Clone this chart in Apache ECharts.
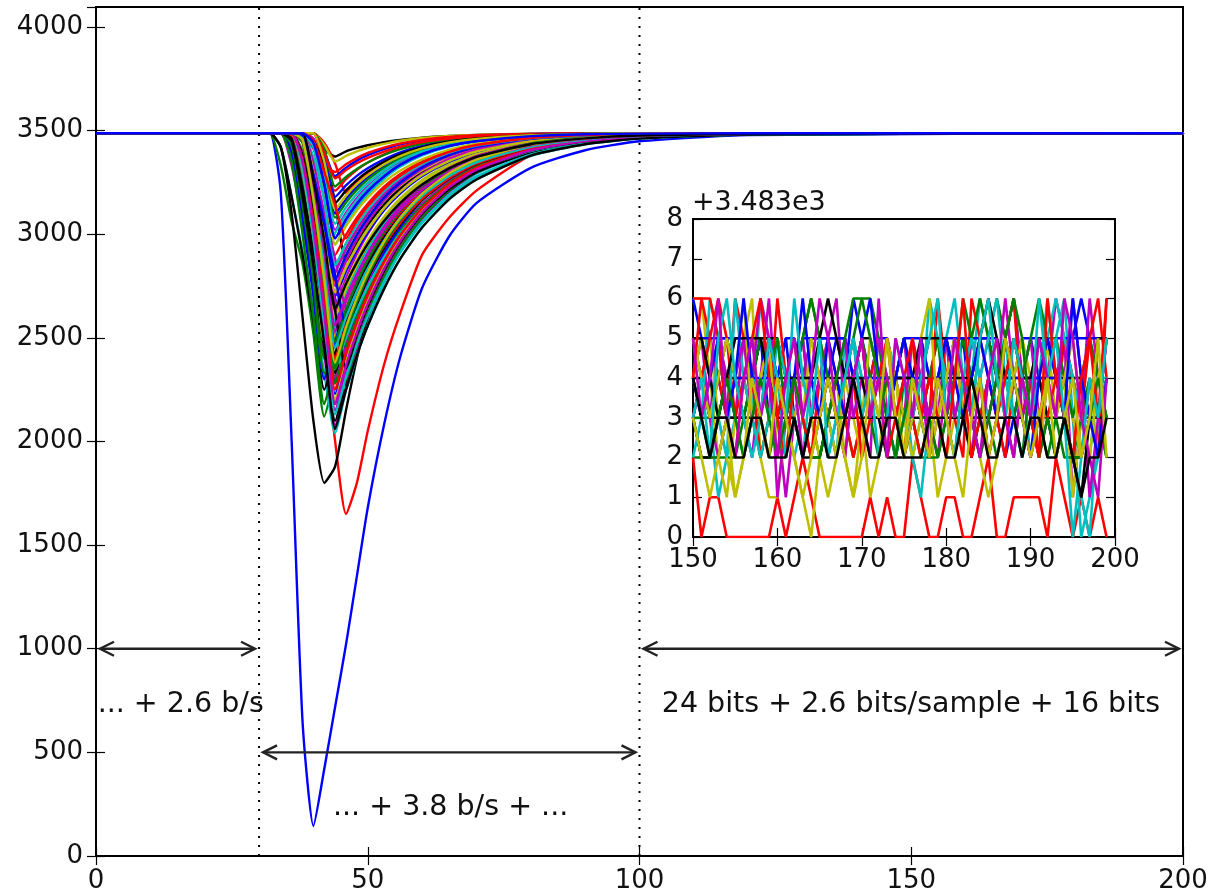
<!DOCTYPE html>
<html><head><meta charset="utf-8">
<script src="https://cdn.jsdelivr.net/npm/echarts@6/dist/echarts.min.js"></script>
<style>html,body{margin:0;padding:0;background:#fff}#c{width:1213px;height:894px}</style>
</head><body><div id="c"></div><script>
// ---------------- DATA ----------------
// sample positions (x) shared by all main traces
const mainX = [0, 30, 32, 34, 36, 38, 40, 42, 44, 46, 48, 50, 53, 56, 60, 65, 70, 80, 90, 100, 120, 200];
// main traces (y values at mainX)
const mainCurves = [
  [3487,3487,3487,3200,2000,650,145,420,720,1020,1350,1680,2080,2410,2740,2990,3150,3320,3405,3448,3478,3487],
  [3487,3487,3487,3330,3060,2860,2520,2120,2316,2482,2626,2749,2901,3021,3145,3255,3328,3413,3453,3471,3484,3487],
  [3487,3487,3487,3487,3440,3250,2900,2450,2000,1650,1800,2050,2370,2620,2900,3080,3210,3380,3445,3470,3484,3487],
  [3487,3487,3487,3420,3180,2920,2640,2330,2040,2247,2423,2575,2763,2913,3064,3199,3292,3396,3445,3468,3484,3487],
  [3487,3487,3487,3487,3330,3050,2750,2420,2080,2281,2453,2601,2783,2928,3076,3207,3297,3398,3446,3468,3484,3487],
  [3487,3487,3487,3487,3360,3130,2870,2600,2340,2517,2665,2791,2946,3065,3184,3287,3355,3430,3462,3476,3485,3487],
  [3487,3487,3487,3420,3100,2600,2100,1800,1880,2150,2400,2600,2820,2980,3130,3260,3340,3430,3468,3480,3486,3487],
  [3487,3487,3487,3487,3460,3300,3100,2880,2670,2460,2618,2751,2914,3040,3168,3276,3348,3426,3460,3476,3486,3487],
  [3487,3487,3487,3487,3440,3150,2800,2400,2567,2708,2827,2929,3052,3149,3245,3327,3382,3441,3467,3478,3486,3487],
  [3487,3487,3487,3487,3470,3300,3050,2780,2500,2652,2779,2888,3021,3124,3226,3315,3373,3438,3465,3478,3486,3487],
  [3487,3487,3487,3487,3487,3300,2950,2580,2200,2384,2541,2676,2843,2976,3111,3231,3313,3406,3450,3470,3484,3487],
  [3487,3487,3487,3487,3487,3330,3020,2660,2300,2483,2636,2766,2927,3050,3174,3280,3350,3428,3461,3476,3486,3487],
  [3487,3487,3487,3487,3487,3350,3000,2560,2714,2843,2949,3040,3146,3227,3306,3373,3415,3457,3475,3482,3487,3487],
  [3487,3487,3487,3487,3487,3487,3487,3400,3150,2870,2965,3045,3143,3219,3295,3360,3404,3451,3471,3480,3487,3487],
  [3487,3487,3487,3487,3487,3470,3250,2950,2620,2754,2865,2961,3078,3168,3258,3336,3387,3444,3468,3479,3487,3487],
  [3487,3487,3487,3487,3487,3440,3150,2680,2814,2926,3019,3097,3190,3261,3330,3388,3424,3461,3477,3483,3487,3487],
  [3487,3487,3487,3487,3487,3487,3412,3299,3210,3265,3310,3346,3385,3415,3440,3460,3471,3482,3486,3487,3487,3487],
  [3487,3487,3487,3487,3487,3470,3230,2910,2560,2703,2822,2924,3049,3146,3242,3326,3380,3441,3467,3478,3486,3487],
  [3487,3487,3487,3487,3487,3450,3250,2980,2680,2380,2550,2693,2869,3005,3143,3260,3338,3422,3458,3475,3486,3487],
  [3487,3487,3487,3487,3487,3370,3080,2760,2420,2584,2722,2839,2983,3094,3205,3301,3364,3434,3464,3477,3486,3487],
  [3487,3487,3487,3487,3487,3487,3487,3410,3375,3400,3416,3429,3444,3455,3466,3474,3479,3484,3486,3487,3487,3487],
  [3487,3487,3487,3487,3487,3487,3460,3300,3100,3170,3228,3274,3328,3371,3410,3441,3458,3477,3483,3486,3487,3487],
  [3487,3487,3487,3487,3487,3487,3455,3290,3080,3153,3214,3263,3320,3365,3406,3438,3457,3476,3483,3486,3487,3487],
  [3487,3487,3487,3487,3487,3487,3487,3440,3340,3200,3252,3295,3343,3381,3415,3444,3461,3478,3484,3486,3487,3487],
  [3487,3487,3487,3487,3487,3487,3370,3170,2950,3047,3127,3192,3267,3326,3380,3423,3447,3472,3482,3485,3487,3487],
  [3487,3487,3487,3487,3487,3475,3300,3040,2750,2872,2975,3060,3163,3239,3315,3378,3418,3459,3476,3483,3487,3487],
  [3487,3487,3487,3487,3487,3487,3320,3100,2850,2956,3044,3118,3207,3273,3338,3393,3427,3463,3477,3483,3487,3487],
  [3487,3487,3487,3487,3390,3130,2800,2450,2100,2298,2468,2613,2793,2936,3082,3211,3300,3400,3447,3468,3484,3487],
  [3487,3487,3487,3487,3487,3380,3150,2920,2690,2450,2610,2743,2908,3036,3164,3274,3347,3426,3460,3476,3486,3487],
  [3487,3487,3487,3487,3460,3230,2900,2540,2180,2367,2526,2664,2833,2968,3105,3227,3311,3405,3449,3469,3484,3487],
  [3487,3487,3487,3487,3487,3380,3120,2830,2520,2669,2794,2900,3031,3131,3232,3319,3376,3439,3466,3478,3486,3487],
  [3487,3487,3487,3487,3450,3180,2850,2500,2150,2328,2483,2617,2784,2920,3060,3189,3278,3385,3438,3463,3482,3487],
  [3487,3487,3487,3487,3487,3487,3460,3270,3020,3104,3174,3230,3296,3347,3394,3431,3452,3474,3482,3485,3487,3487],
  [3487,3487,3487,3487,3487,3487,3487,3430,3350,3377,3399,3417,3436,3451,3464,3474,3479,3484,3486,3487,3487,3487],
  [3487,3487,3487,3487,3487,3450,3170,2750,2330,2508,2657,2785,2941,3061,3182,3286,3354,3429,3462,3476,3486,3487],
  [3487,3487,3487,3487,3487,3487,3487,3400,3280,3321,3355,3381,3410,3433,3452,3467,3475,3483,3486,3487,3487,3487],
  [3487,3487,3487,3487,3487,3487,3300,3050,2780,2897,2996,3077,3176,3249,3322,3382,3421,3460,3476,3483,3487,3487],
  [3487,3487,3487,3487,3487,3487,3487,3340,3300,3337,3367,3392,3418,3438,3455,3469,3477,3484,3486,3487,3487,3487],
  [3487,3487,3487,3487,3487,3487,3300,2900,3006,3094,3164,3223,3293,3340,3390,3428,3451,3474,3482,3485,3487,3487],
  [3487,3487,3487,3487,3487,3487,3260,2980,2650,2789,2905,3002,3119,3206,3291,3363,3408,3455,3474,3482,3487,3487],
  [3487,3487,3487,3487,3487,3450,3200,2860,2500,2652,2779,2888,3021,3124,3226,3315,3373,3438,3465,3478,3486,3487],
  [3487,3487,3487,3420,3180,2900,2580,2250,2427,2578,2708,2819,2956,3065,3178,3277,3344,3420,3456,3473,3484,3487],
  [3487,3487,3487,3487,3380,3120,2820,2520,2230,2410,2563,2695,2858,2988,3120,3237,3317,3408,3451,3470,3483,3487],
  [3487,3487,3487,3487,3487,3400,3200,2930,2620,2300,2470,2615,2794,2937,3082,3212,3299,3400,3447,3468,3484,3487],
  [3487,3487,3487,3487,3487,3460,3200,2850,2450,2610,2743,2858,2998,3105,3213,3307,3368,3435,3464,3477,3486,3487],
  [3487,3487,3487,3487,3487,3380,3130,2850,2550,2250,2415,2558,2736,2882,3032,3169,3264,3378,3434,3461,3481,3487],
  [3487,3487,3487,3487,3450,3200,2880,2520,2150,2341,2504,2645,2818,2956,3097,3221,3307,3403,3448,3469,3483,3487],
  [3487,3487,3487,3487,3487,3330,2950,2480,2635,2765,2876,2970,3084,3174,3262,3339,3389,3445,3469,3479,3487,3487],
  [3487,3487,3487,3487,3460,3220,2920,2600,2280,2441,2581,2701,2852,2975,3102,3218,3299,3395,3442,3465,3482,3487],
  [3487,3487,3487,3487,3487,3487,3280,3000,2700,2821,2923,3009,3116,3197,3279,3350,3396,3448,3470,3480,3487,3487],
  [3487,3487,3487,3487,3487,3460,3150,2720,2280,2453,2600,2727,2883,3008,3135,3247,3324,3411,3452,3471,3484,3487],
  [3487,3487,3487,3487,3487,3487,3420,3180,2900,2997,3079,3147,3229,3290,3350,3400,3432,3465,3478,3483,3487,3487],
  [3487,3487,3487,3487,3487,3487,3250,2950,2600,2737,2851,2949,3068,3161,3253,3333,3385,3443,3467,3479,3487,3487],
  [3487,3487,3487,3487,3487,3390,3170,2920,2670,2420,2573,2703,2864,2993,3123,3239,3318,3409,3451,3470,3484,3487],
  [3487,3487,3487,3487,3487,3487,3430,3220,2950,3039,3114,3176,3251,3307,3361,3408,3437,3467,3479,3484,3487,3487],
  [3487,3487,3487,3487,3487,3360,3100,2800,2480,2624,2747,2853,2983,3087,3193,3287,3351,3424,3458,3474,3484,3487],
  [3487,3487,3487,3487,3487,3487,3487,3380,3180,3235,3281,3318,3361,3395,3426,3450,3464,3479,3484,3487,3487,3487],
  [3487,3487,3487,3487,3487,3487,3487,3410,3230,3276,3315,3346,3382,3410,3436,3456,3468,3480,3484,3487,3487,3487],
  [3487,3487,3487,3487,3487,3487,3487,3390,3270,3309,3342,3368,3398,3422,3444,3461,3471,3481,3485,3487,3487,3487],
  [3487,3487,3487,3487,3487,3487,3440,3270,3050,3129,3194,3247,3308,3356,3400,3435,3455,3475,3483,3486,3487,3487],
  [3487,3487,3487,3487,3487,3487,3340,3090,2820,2931,3023,3100,3194,3263,3331,3388,3424,3462,3477,3483,3487,3487],
  [3487,3487,3487,3487,3487,3470,3240,2940,2600,2737,2851,2949,3068,3161,3253,3333,3385,3443,3467,3479,3487,3487],
  [3487,3487,3487,3487,3487,3460,3180,2790,2380,2538,2673,2790,2933,3048,3164,3267,3338,3417,3455,3472,3484,3487],
  [3487,3487,3487,3487,3420,3080,2700,2300,2483,2636,2766,2877,3012,3118,3222,3312,3372,3437,3466,3478,3487,3487],
  [3487,3487,3487,3487,3350,3000,2600,2180,2381,2550,2694,2815,2964,3081,3196,3295,3360,3432,3463,3477,3486,3487],
  [3487,3487,3487,3487,3487,3460,3250,3000,2780,2550,2694,2815,2964,3079,3196,3295,3361,3432,3463,3477,3486,3487],
  [3487,3487,3487,3487,3487,3350,3050,2700,2350,2501,2633,2747,2889,3005,3124,3233,3310,3401,3445,3467,3482,3487],
  [3487,3487,3487,3487,3487,3487,3330,3100,2880,2650,2779,2887,3020,3123,3227,3315,3374,3438,3465,3478,3486,3487],
  [3487,3487,3487,3487,3487,3330,3000,2620,2200,2384,2541,2676,2843,2976,3111,3231,3313,3406,3450,3470,3484,3487],
  [3487,3487,3487,3487,3487,3487,3450,3330,3150,3211,3261,3302,3349,3386,3420,3447,3462,3478,3484,3487,3487,3487],
  [3487,3487,3487,3487,3487,3487,3440,3240,2980,3071,3147,3208,3279,3335,3386,3426,3449,3473,3482,3485,3487,3487],
  [3487,3487,3487,3487,3430,3140,2780,2330,2367,2539,2685,2808,2958,3076,3191,3292,3359,3431,3463,3477,3486,3487],
  [3487,3487,3487,3487,3487,3450,3180,2800,2400,2555,2688,2802,2943,3055,3170,3271,3340,3419,3455,3472,3484,3487],
  [3487,3487,3487,3487,3487,3330,2980,2560,2130,2310,2468,2604,2773,2912,3054,3184,3275,3384,3437,3463,3482,3487],
  [3487,3487,3487,3487,3487,3460,3220,2900,2530,2677,2801,2906,3035,3135,3234,3320,3377,3439,3466,3478,3486,3487],
  [3487,3487,3487,3487,3487,3487,3300,3030,2720,2838,2937,3021,3125,3205,3285,3354,3399,3449,3470,3480,3487,3487],
  [3487,3487,3487,3487,3487,3380,3150,2900,2630,2350,2513,2651,2823,2961,3099,3223,3307,3404,3448,3469,3484,3487],
  [3487,3487,3487,3487,3487,3475,3290,3050,2780,2897,2996,3077,3176,3249,3322,3382,3421,3460,3476,3483,3487,3487],
  [3487,3487,3487,3487,3487,3487,3180,2850,2480,2635,2765,2876,3012,3116,3221,3312,3371,3437,3465,3478,3486,3487],
  [3487,3487,3487,3487,3487,3360,3060,2680,2250,2427,2578,2708,2868,2996,3126,3241,3320,3409,3451,3470,3484,3487],
  [3487,3487,3487,3487,3487,3487,3420,3160,2850,2956,3044,3118,3207,3273,3338,3393,3427,3463,3477,3483,3487,3487],
  [3487,3487,3487,3487,3487,3350,3030,2620,2180,2367,2526,2664,2833,2968,3105,3227,3311,3405,3449,3469,3484,3487],
  [3487,3487,3487,3487,3487,3487,3487,3350,3120,3186,3241,3285,3337,3377,3414,3443,3460,3477,3483,3487,3487,3487],
  [3487,3487,3487,3487,3450,3180,2850,2470,2060,2250,2415,2558,2736,2882,3032,3169,3264,3379,3434,3461,3481,3487],
  [3487,3487,3487,3487,3487,3487,3280,3050,2800,2560,2703,2822,2970,3084,3199,3297,3362,3432,3463,3477,3486,3487],
  [3487,3487,3487,3487,3487,3450,3160,2760,2350,2525,2672,2797,2950,3069,3187,3289,3356,3430,3462,3476,3486,3487],
  [3487,3487,3487,3487,3487,3487,3450,3300,3140,2980,3064,3135,3219,3283,3345,3397,3430,3464,3478,3483,3487,3487],
  [3487,3487,3487,3487,3487,3460,3200,2850,2450,2598,2725,2834,2968,3075,3184,3281,3347,3422,3457,3473,3484,3487],
  [3487,3487,3487,3487,3487,3487,3230,2920,2560,2693,2806,2903,3023,3119,3216,3303,3362,3429,3460,3475,3484,3487],
  [3487,3487,3487,3487,3487,3455,3170,2780,2380,2550,2693,2815,2964,3080,3195,3294,3360,3432,3463,3477,3486,3487],
  [3487,3487,3487,3487,3487,3487,3260,2970,2640,2761,2864,2953,3063,3151,3240,3318,3373,3434,3462,3476,3484,3487],
  [3487,3487,3487,3487,3487,3487,3440,3240,2980,3071,3147,3208,3279,3335,3386,3426,3449,3473,3482,3485,3487,3487]
];
// inset: x = sample index, y = value minus 3483
const insetX = [150,151,152,153,154,155,156,157,158,159,160,161,162,163,164,165,166,167,168,169,
  170,171,172,173,174,175,176,177,178,179,180,181,182,183,184,185,186,187,188,189,
  190,191,192,193,194,195,196,197,198,199];
const insetCurves = [
  [6,5,4,5,5,5,5,4,5,5,4,5,5,4,5,5,5,5,4,6,5,4,5,5,4,5,5,5,4,4,4,5,5,4,5,5,5,4,4,5,5,5,4,5,5,5,6,5,4,5],
  [2,2,2,2,3,4,3,3,2,3,4,3,4,5,6,5,4,3,4,5,6,6,5,3,4,3,3,2,3,3,4,5,4,3,5,5,6,5,6,4,4,3,3,2,3,4,4,3,3,2],
  [2,0,1,1,0,0,0,0,0,0,1,0,1,2,1,0,0,0,0,0,0,1,0,1,0,0,2,1,0,0,1,1,0,0,1,2,0,0,1,1,1,1,0,2,1,0,1,0,1,0],
  [5,4,3,1,2,3,4,3,6,5,4,3,2,3,4,3,2,3,4,5,4,3,4,3,2,3,2,3,3,4,5,3,3,4,6,5,3,4,3,4,2,3,4,5,6,3,0,1,2,4],
  [4,5,3,4,5,4,3,2,4,6,3,1,3,4,5,4,3,2,4,5,3,2,6,3,4,5,3,4,2,3,5,4,3,5,4,2,3,5,6,4,3,2,4,6,5,1,3,6,4,3],
  [6,6,4,2,1,3,5,6,2,1,1,3,2,1,0,2,3,4,2,1,3,1,2,4,3,2,5,4,3,1,2,3,4,2,3,4,5,3,2,4,3,2,5,3,4,1,3,4,2,3],
  [4,4,3,3,4,4,4,4,5,5,5,4,4,4,4,4,4,4,4,4,5,5,4,4,4,4,4,4,4,4,4,4,4,3,3,3,4,4,4,4,4,4,4,4,4,4,4,3,3,4],
  [3,4,5,4,3,3,3,4,5,3,4,5,3,4,4,3,4,5,5,4,4,4,4,4,4,4,3,5,4,4,3,4,5,3,3,4,3,2,3,4,5,4,3,2,3,4,3,3,3,5],
  [3,2,2,2,2,2,3,4,3,2,3,2,4,5,3,2,3,4,3,2,3,3,2,3,2,4,3,2,2,2,3,4,5,4,3,3,2,3,3,2,4,3,2,3,2,2,3,4,3,2],
  [6,6,5,4,3,6,5,4,2,3,6,4,3,2,3,4,5,4,3,2,3,4,5,4,3,2,4,3,4,5,4,3,2,6,5,4,3,2,4,3,2,3,4,3,5,4,3,3,2,6],
  [4,3,6,5,4,3,2,3,4,3,5,4,3,2,3,4,3,2,5,3,4,3,5,4,3,4,2,1,3,4,5,6,4,3,4,3,4,5,3,2,3,4,6,4,3,2,1,0,3,4],
  [5,4,3,5,4,3,5,4,6,5,1,3,4,5,3,4,5,6,3,4,5,3,4,5,4,3,5,4,3,2,4,5,3,2,4,5,4,3,2,4,5,3,4,5,4,3,2,4,3,5],
  [4,5,5,3,2,1,2,3,4,5,3,2,3,4,3,2,1,2,4,3,2,3,4,5,4,3,2,3,2,3,4,5,4,3,2,1,2,3,4,5,4,3,4,5,4,3,2,3,4,3],
  [3,2,2,3,3,3,3,3,4,4,3,3,3,2,2,2,3,3,3,3,3,3,3,2,2,2,3,3,3,3,3,3,3,2,3,3,3,3,3,3,4,4,3,3,3,2,2,3,3,3],
  [5,5,5,5,5,4,4,4,4,4,4,4,4,5,5,5,5,5,5,4,4,4,4,4,4,4,4,4,5,5,5,5,5,5,5,5,4,4,4,4,4,4,4,4,5,5,5,5,5,5],
  [4,3,3,4,5,4,3,4,5,4,5,3,4,5,6,5,4,3,3,4,5,4,3,4,4,5,4,3,4,5,3,4,6,5,6,5,4,4,3,4,5,6,5,5,4,3,4,5,4,3],
  [3,4,5,6,5,3,4,3,4,5,3,2,4,3,2,4,3,4,3,4,2,3,4,5,3,4,3,2,3,6,4,3,4,2,3,4,3,5,6,3,4,2,3,4,5,4,3,5,6,4],
  [2,3,4,3,2,6,4,3,2,3,4,2,3,2,4,3,2,3,4,5,4,3,4,3,2,3,4,3,6,5,4,3,4,5,4,5,6,4,3,2,3,4,5,6,5,4,3,2,4,4],
  [3,4,3,2,3,4,5,3,4,5,4,3,4,2,3,4,3,4,5,3,4,3,5,4,3,2,3,4,3,4,5,3,4,3,2,3,4,6,4,3,4,5,4,3,4,6,4,1,3,5],
  [5,4,3,4,5,4,6,3,4,5,2,3,4,3,5,4,3,2,3,4,3,5,4,3,4,2,3,5,6,3,4,5,3,4,5,6,4,3,4,5,3,2,4,3,4,5,3,2,4,5],
  [5,5,4,3,4,5,5,5,5,4,3,4,4,4,4,5,6,5,4,4,4,3,3,3,4,4,4,5,5,5,5,4,4,4,5,6,5,4,5,4,4,5,5,4,3,2,1,3,5,5],
  [4,3,4,5,3,4,6,4,3,5,4,3,4,6,4,3,5,4,3,4,5,6,4,3,4,5,4,3,2,4,5,4,3,4,5,4,3,5,4,3,2,4,5,4,3,6,4,3,2,4],
  [3,3,2,3,4,3,2,3,4,3,2,3,4,3,2,2,3,4,5,6,6,5,4,3,2,3,4,3,3,2,3,2,4,3,2,3,4,5,6,5,3,2,3,2,3,2,2,3,4,3],
  [4,6,6,5,3,2,4,5,6,4,3,4,5,3,2,3,4,3,2,4,5,3,4,2,3,4,5,3,4,3,2,4,6,3,4,2,3,4,5,4,3,2,6,4,3,2,4,5,3,6],
  [3,4,2,5,6,4,3,2,3,5,4,3,6,4,3,5,2,3,4,5,3,4,2,3,5,4,3,4,5,6,3,2,4,3,5,6,4,3,5,4,3,6,4,5,3,0,2,4,3,5],
  [5,3,4,6,3,2,4,5,3,4,2,4,5,3,4,6,5,3,2,4,5,3,4,2,5,4,3,5,2,4,3,5,4,3,2,4,5,3,2,4,3,5,4,3,6,5,3,2,1,4],
  [3,2,1,2,3,1,2,4,3,2,4,3,2,1,2,3,4,3,2,1,2,4,3,5,3,2,4,3,2,4,3,2,1,3,4,2,3,5,4,3,2,3,4,2,3,4,2,3,5,2],
  [4,3,2,3,3,2,2,3,3,2,2,2,3,2,3,3,2,2,3,4,3,2,2,3,3,2,2,2,3,3,2,2,3,4,3,2,2,3,3,2,3,3,2,2,3,2,1,2,2,3]
];
const insetOffsetText = '+3.483e3';
// dotted region separators (x)
const separatorX = [30, 100];
// double arrows: [xStart, xEnd, y]
const arrowSpans = [[0, 30, 1000], [100, 200, 1000], [30, 100, 500]];
// annotations: text + anchor (x, y)
const noteTexts = ['... + 2.6 b/s', '24 bits + 2.6 bits/sample + 16 bits', '... + 3.8 b/s + ...'];
const noteX = [0.3, 104.1, 43.6];
const noteY = [729, 729, 232];

// ---------------- STYLE ----------------
const COLORS = ['#0000ff', '#008000', '#ff0000', '#00bfbf', '#bf00bf', '#bfbf00', '#000000'];
const FONT = 'DejaVu Sans';
const TXT = '#111';
const plain = function (v) { return String(v); };

function axisX(grid, min, max, interval, pos, showLabel, margin) {
  return {
    gridIndex: grid, type: 'value', min: min, max: max, interval: interval, position: pos,
    axisLine: { show: false },
    axisTick: { show: true, inside: true, length: 9, lineStyle: { color: '#000', width: 1.2 } },
    axisLabel: { show: showLabel, fontSize: 26, fontFamily: FONT, color: TXT, margin: margin, formatter: plain },
    splitLine: { show: false }
  };
}
function axisY(grid, min, max, interval, pos, showLabel, margin) {
  return {
    gridIndex: grid, type: 'value', min: min, max: max, interval: interval, position: pos,
    axisLine: { show: false },
    axisTick: { show: true, inside: true, length: 9, lineStyle: { color: '#000', width: 1.2 } },
    axisLabel: { show: showLabel, fontSize: 26, fontFamily: FONT, color: TXT, margin: margin,
      showMaxLabel: max % interval === 0, formatter: plain },
    splitLine: { show: false }
  };
}

const series = [];
mainCurves.forEach(function (c, i) {
  series.push({
    type: 'line', xAxisIndex: 0, yAxisIndex: 0, symbol: 'none', smooth: 0.2,
    data: mainX.map(function (x, k) { return [x, c[k]]; }),
    lineStyle: { width: 2.4, color: COLORS[i % 7] }, z: 3, silent: true
  });
});
separatorX.forEach(function (x) {
  series.push({
    type: 'line', xAxisIndex: 0, yAxisIndex: 0, symbol: 'none',
    data: [[x, 0], [x, 4096]],
    lineStyle: { width: 2, color: '#000', type: [2, 7] }, z: 2, silent: true
  });
});
series.push({
  type: 'custom', xAxisIndex: 0, yAxisIndex: 0, z: 5, silent: true,
  data: arrowSpans, encode: { x: [0, 1], y: 2 },
  renderItem: function (params, api) {
    const p1 = api.coord([api.value(0), api.value(2)]);
    const p2 = api.coord([api.value(1), api.value(2)]);
    const s = 4, hl = 14, hw = 7, y = p1[1];
    const x1 = p1[0] + s, x2 = p2[0] - s;
    const st = { stroke: '#222', lineWidth: 2.4, fill: null };
    return { type: 'group', children: [
      { type: 'line', shape: { x1: x1, y1: y, x2: x2, y2: y }, style: st },
      { type: 'polyline', shape: { points: [[x1 + hl, y - hw], [x1, y], [x1 + hl, y + hw]] }, style: st },
      { type: 'polyline', shape: { points: [[x2 - hl, y - hw], [x2, y], [x2 - hl, y + hw]] }, style: st }
    ]};
  }
});
series.push({
  type: 'custom', xAxisIndex: 0, yAxisIndex: 0, z: 6, silent: true,
  data: noteX.map(function (x, i) { return [x, noteY[i], i]; }), encode: { x: 0, y: 1 },
  renderItem: function (params, api) {
    const p = api.coord([api.value(0), api.value(1)]);
    return { type: 'text', x: p[0], y: p[1], style: {
      text: noteTexts[api.value(2)], fontSize: 28.5, fontFamily: FONT, fill: TXT,
      align: 'left', verticalAlign: 'middle' } };
  }
});
insetCurves.forEach(function (c, i) {
  series.push({
    type: 'line', xAxisIndex: 2, yAxisIndex: 2, symbol: 'none',
    data: insetX.map(function (x, k) { return [x, c[k]]; }),
    lineStyle: { width: 2.6, color: COLORS[i % 7] }, z: 3, silent: true
  });
});

const chart = echarts.init(document.getElementById('c'), null, { renderer: 'canvas' });
chart.setOption({
  animation: false,
  backgroundColor: '#fff',
  grid: [
    { left: 96, right: 30, top: 7, bottom: 38, show: true, borderColor: '#000', borderWidth: 2, backgroundColor: 'rgba(0,0,0,0)', containLabel: false, outerBoundsMode: 'none' },
    { left: 693, top: 219, width: 422, height: 318, show: true, borderColor: '#000', borderWidth: 2, backgroundColor: '#fff', containLabel: false, outerBoundsMode: 'none' }
  ],
  xAxis: [
    axisX(0, 0, 200, 50, 'bottom', true, 12),
    axisX(0, 0, 200, 50, 'top', false, 12),
    axisX(1, 150, 200, 10, 'bottom', true, 10),
    axisX(1, 150, 200, 10, 'top', false, 10)
  ],
  yAxis: [
    axisY(0, 0, 4096, 500, 'left', true, 13),
    axisY(0, 0, 4096, 500, 'right', false, 13),
    axisY(1, 0, 8, 1, 'left', true, 10),
    axisY(1, 0, 8, 1, 'right', false, 10)
  ],
  graphic: [
    { type: 'text', x: 692, y: 203, silent: true, style: { text: insetOffsetText, fontSize: 27, fontFamily: FONT, fill: TXT, align: 'left', verticalAlign: 'middle' } }
  ],
  series: series
});
</script></body></html>
